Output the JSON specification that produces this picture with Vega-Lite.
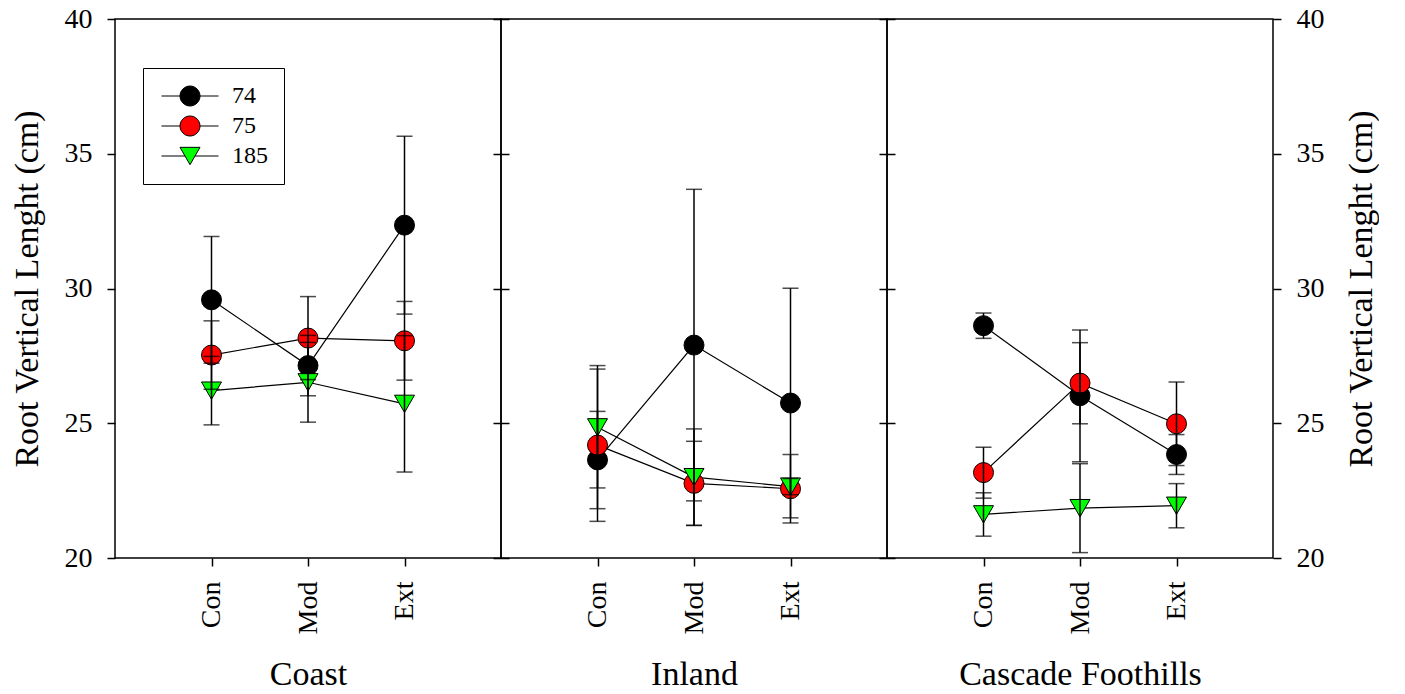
{
  "$schema": "https://vega.github.io/schema/vega-lite/v6.json",
  "padding": {"left": 9, "top": 4, "right": 0, "bottom": 0},
  "config": {
    "font": "Liberation Serif",
    "view": {"stroke": "black", "strokeWidth": 1.5},
    "axis": {
      "labelFont": "Liberation Serif", "titleFont": "Liberation Serif",
      "labelColor": "black", "titleColor": "black", "titleFontWeight": "normal",
      "tickColor": "black", "tickWidth": 1.5, "tickSize": 8, "domain": false,
      "labelFontSize": 28, "titleFontSize": 34,
      "gridColor": "black", "gridWidth": 1.5, "gridOpacity": 1
    },
    "legend": {
      "orient": "none", "legendX": 28, "legendY": 49, "title": null,
      "labelFontSize": 24, "labelFont": "Liberation Serif", "labelColor": "black",
      "symbolSize": 400, "symbolOffset": 19, "labelOffset": 30, "rowPadding": 6, "padding": 16,
      "strokeColor": "black", "fillColor": "white", "symbolStrokeWidth": 1, "symbolOpacity": 1
    }
  },
  "data": {"values": [
    {"region": "Coast", "series": "74", "level": "Con", "mean": 29.58, "lo": 27.23, "hi": 31.93},
    {"region": "Coast", "series": "74", "level": "Mod", "mean": 27.14, "lo": 26.02, "hi": 28.26},
    {"region": "Coast", "series": "74", "level": "Ext", "mean": 32.35, "lo": 29.05, "hi": 35.65},
    {"region": "Coast", "series": "75", "level": "Con", "mean": 27.53, "lo": 26.26, "hi": 28.80},
    {"region": "Coast", "series": "75", "level": "Mod", "mean": 28.16, "lo": 26.62, "hi": 29.70},
    {"region": "Coast", "series": "75", "level": "Ext", "mean": 28.06, "lo": 26.60, "hi": 29.52},
    {"region": "Coast", "series": "185", "level": "Con", "mean": 26.21, "lo": 24.94, "hi": 27.48},
    {"region": "Coast", "series": "185", "level": "Mod", "mean": 26.52, "lo": 25.04, "hi": 28.00},
    {"region": "Coast", "series": "185", "level": "Ext", "mean": 25.72, "lo": 23.19, "hi": 28.25},
    {"region": "Inland", "series": "74", "level": "Con", "mean": 23.64, "lo": 21.83, "hi": 25.44},
    {"region": "Inland", "series": "74", "level": "Mod", "mean": 27.90, "lo": 22.12, "hi": 33.68},
    {"region": "Inland", "series": "74", "level": "Ext", "mean": 25.75, "lo": 21.49, "hi": 30.01},
    {"region": "Inland", "series": "75", "level": "Con", "mean": 24.19, "lo": 21.36, "hi": 27.01},
    {"region": "Inland", "series": "75", "level": "Mod", "mean": 22.77, "lo": 21.21, "hi": 24.33},
    {"region": "Inland", "series": "75", "level": "Ext", "mean": 22.57, "lo": 21.30, "hi": 23.84},
    {"region": "Inland", "series": "185", "level": "Con", "mean": 24.85, "lo": 22.60, "hi": 27.14},
    {"region": "Inland", "series": "185", "level": "Mod", "mean": 23.00, "lo": 21.21, "hi": 24.79},
    {"region": "Inland", "series": "185", "level": "Ext", "mean": 22.65, "lo": 22.35, "hi": 22.95},
    {"region": "Cascade Foothills", "series": "74", "level": "Con", "mean": 28.62, "lo": 28.15, "hi": 29.09},
    {"region": "Cascade Foothills", "series": "74", "level": "Mod", "mean": 26.02, "lo": 23.57, "hi": 28.46},
    {"region": "Cascade Foothills", "series": "74", "level": "Ext", "mean": 23.84, "lo": 23.10, "hi": 24.58},
    {"region": "Cascade Foothills", "series": "75", "level": "Con", "mean": 23.17, "lo": 22.22, "hi": 24.11},
    {"region": "Cascade Foothills", "series": "75", "level": "Mod", "mean": 26.49, "lo": 24.98, "hi": 27.99},
    {"region": "Cascade Foothills", "series": "75", "level": "Ext", "mean": 24.98, "lo": 23.43, "hi": 26.53},
    {"region": "Cascade Foothills", "series": "185", "level": "Con", "mean": 21.62, "lo": 20.81, "hi": 22.42},
    {"region": "Cascade Foothills", "series": "185", "level": "Mod", "mean": 21.85, "lo": 20.20, "hi": 23.50},
    {"region": "Cascade Foothills", "series": "185", "level": "Ext", "mean": 21.94, "lo": 21.12, "hi": 22.76}
  ]},
  "spacing": 0,
  "bounds": "flush",
  "resolve": {"scale": {"fill": "independent", "shape": "independent"}},
  "hconcat": [
    {
      "width": 386, "height": 539,
      "transform": [{"filter": "datum.region === 'Coast'"}],
      "encoding": {
        "x": {"field": "level", "type": "nominal",
          "scale": {"type": "point", "domain": ["Con", "Mod", "Ext"], "padding": 1},
          "axis": {"title": "Coast", "labelAngle": 270, "labelPadding": 15, "titleFontSize": 34, "titlePadding": 24, "grid": false}},
        "y": {"field": "mean", "type": "quantitative", "scale": {"domain": [20, 40], "nice": false, "zero": false},
          "axis": {"orient": "left", "title": "Root Vertical Lenght (cm)", "values": [20, 25, 30, 35, 40], "labelPadding": 15, "titlePadding": 20, "grid": true, "gridDash": [0, 378, 8, 1000]}}
      },
      "layer": [
        {"mark": {"type": "line", "color": "black", "strokeWidth": 1.2},
          "encoding": {"detail": {"field": "series"}, "order": {"value": null}}},
        {"transform": [{"filter": "datum.series !== '185'"}],
          "mark": {"type": "point", "shape": "circle", "filled": true, "size": 400, "stroke": "black", "strokeWidth": 1, "opacity": 1},
          "encoding": {
            "fill": {"field": "series", "type": "nominal",
              "scale": {"domain": ["74", "75", "185"], "range": ["#000000", "#ff0000", "#00ff00"]},
              "legend": {"encode": {"symbols": {"stroke": {"value": "black"}, "strokeWidth": {"value": 1.2}, "strokeOpacity": {"value": 1}}}}}
          }},
        {"transform": [{"filter": "datum.series === '185'"}],
          "mark": {"type": "point", "shape": "triangle-down", "filled": true, "size": 400, "stroke": "black", "strokeWidth": 1, "opacity": 1},
          "encoding": {
            "fill": {"field": "series", "type": "nominal",
              "scale": {"domain": ["74", "75", "185"], "range": ["#000000", "#ff0000", "#00ff00"]},
              "legend": {"encode": {"symbols": {"stroke": {"value": "black"}, "strokeWidth": {"value": 1.2}, "strokeOpacity": {"value": 1}}}}}
          }},
        {"mark": {"type": "point", "filled": true, "size": 400, "stroke": "black", "strokeWidth": 1, "opacity": 0},
          "encoding": {
            "fill": {"field": "series", "type": "nominal",
              "scale": {"domain": ["74", "75", "185"], "range": ["#000000", "#ff0000", "#00ff00"]},
              "legend": {"encode": {"symbols": {"stroke": {"value": "black"}, "strokeWidth": {"value": 1.2}, "strokeOpacity": {"value": 1}}}}},
            "shape": {"field": "series", "type": "nominal",
              "scale": {"domain": ["74", "75", "185"], "range": [
                "M-2.85,0L-1,0M1,0L2.85,0M1,0A1,1,0,1,1,-1,0A1,1,0,1,1,1,0Z",
                "M-2.85,0L-1,0M1,0L2.85,0M1,0A1,1,0,1,1,-1,0A1,1,0,1,1,1,0Z",
                "M-2.85,0L-0.5,0M0.5,0L2.85,0M0,0.866L1,-0.866L-1,-0.866Z"]},
              "legend": {"encode": {"symbols": {"stroke": {"value": "black"}, "strokeWidth": {"value": 1.2}, "strokeOpacity": {"value": 1}}}}}
          }},
        {"mark": {"type": "rule", "color": "black", "strokeWidth": 1.5},
          "encoding": {"y": {"field": "lo", "type": "quantitative"}, "y2": {"field": "hi"}}},
        {"mark": {"type": "tick", "color": "black", "thickness": 1.5, "size": 16, "orient": "horizontal"},
          "encoding": {"y": {"field": "lo", "type": "quantitative"}}},
        {"mark": {"type": "tick", "color": "black", "thickness": 1.5, "size": 16, "orient": "horizontal"},
          "encoding": {"y": {"field": "hi", "type": "quantitative"}}}
      ]
    },
    {
      "width": 386, "height": 539,
      "transform": [{"filter": "datum.region === 'Inland'"}],
      "encoding": {
        "x": {"field": "level", "type": "nominal",
          "scale": {"type": "point", "domain": ["Con", "Mod", "Ext"], "padding": 1},
          "axis": {"title": "Inland", "labelAngle": 270, "labelPadding": 15, "titleFontSize": 34, "titlePadding": 24, "grid": false}},
        "y": {"field": "mean", "type": "quantitative", "scale": {"domain": [20, 40], "nice": false, "zero": false},
          "axis": {"orient": "left", "title": null, "values": [20, 25, 30, 35, 40], "labels": false, "ticks": false, "grid": true, "gridDash": [8, 370, 8, 1000]}}
      },
      "layer": [
        {"mark": {"type": "line", "color": "black", "strokeWidth": 1.2},
          "encoding": {"detail": {"field": "series"}, "order": {"value": null}}},
        {"transform": [{"filter": "datum.series !== '185'"}],
          "mark": {"type": "point", "shape": "circle", "filled": true, "size": 400, "stroke": "black", "strokeWidth": 1, "opacity": 1},
          "encoding": {
            "fill": {"field": "series", "type": "nominal",
              "scale": {"domain": ["74", "75", "185"], "range": ["#000000", "#ff0000", "#00ff00"]}, "legend": null}
          }},
        {"transform": [{"filter": "datum.series === '185'"}],
          "mark": {"type": "point", "shape": "triangle-down", "filled": true, "size": 400, "stroke": "black", "strokeWidth": 1, "opacity": 1},
          "encoding": {
            "fill": {"field": "series", "type": "nominal",
              "scale": {"domain": ["74", "75", "185"], "range": ["#000000", "#ff0000", "#00ff00"]}, "legend": null}
          }},
        {"mark": {"type": "rule", "color": "black", "strokeWidth": 1.5},
          "encoding": {"y": {"field": "lo", "type": "quantitative"}, "y2": {"field": "hi"}}},
        {"mark": {"type": "tick", "color": "black", "thickness": 1.5, "size": 16, "orient": "horizontal"},
          "encoding": {"y": {"field": "lo", "type": "quantitative"}}},
        {"mark": {"type": "tick", "color": "black", "thickness": 1.5, "size": 16, "orient": "horizontal"},
          "encoding": {"y": {"field": "hi", "type": "quantitative"}}}
      ]
    },
    {
      "width": 386, "height": 539,
      "transform": [{"filter": "datum.region === 'Cascade Foothills'"}],
      "encoding": {
        "x": {"field": "level", "type": "nominal",
          "scale": {"type": "point", "domain": ["Con", "Mod", "Ext"], "padding": 1},
          "axis": {"title": "Cascade Foothills", "labelAngle": 270, "labelPadding": 15, "titleFontSize": 34, "titlePadding": 24, "grid": false}},
        "y": {"field": "mean", "type": "quantitative", "scale": {"domain": [20, 40], "nice": false, "zero": false},
          "axis": {"orient": "right", "title": "Root Vertical Lenght (cm)", "titleAngle": 270, "titleBaseline": "top", "values": [20, 25, 30, 35, 40], "labelPadding": 15, "titlePadding": 20, "grid": true, "gridDash": [0, 378, 8, 1000]}}
      },
      "layer": [
        {"mark": {"type": "line", "color": "black", "strokeWidth": 1.2},
          "encoding": {"detail": {"field": "series"}, "order": {"value": null}}},
        {"transform": [{"filter": "datum.series !== '185'"}],
          "mark": {"type": "point", "shape": "circle", "filled": true, "size": 400, "stroke": "black", "strokeWidth": 1, "opacity": 1},
          "encoding": {
            "fill": {"field": "series", "type": "nominal",
              "scale": {"domain": ["74", "75", "185"], "range": ["#000000", "#ff0000", "#00ff00"]}, "legend": null}
          }},
        {"transform": [{"filter": "datum.series === '185'"}],
          "mark": {"type": "point", "shape": "triangle-down", "filled": true, "size": 400, "stroke": "black", "strokeWidth": 1, "opacity": 1},
          "encoding": {
            "fill": {"field": "series", "type": "nominal",
              "scale": {"domain": ["74", "75", "185"], "range": ["#000000", "#ff0000", "#00ff00"]}, "legend": null}
          }},
        {"mark": {"type": "rule", "color": "black", "strokeWidth": 1.5},
          "encoding": {"y": {"field": "lo", "type": "quantitative"}, "y2": {"field": "hi"}}},
        {"mark": {"type": "tick", "color": "black", "thickness": 1.5, "size": 16, "orient": "horizontal"},
          "encoding": {"y": {"field": "lo", "type": "quantitative"}}},
        {"mark": {"type": "tick", "color": "black", "thickness": 1.5, "size": 16, "orient": "horizontal"},
          "encoding": {"y": {"field": "hi", "type": "quantitative"}}}
      ]
    }
  ]
}
